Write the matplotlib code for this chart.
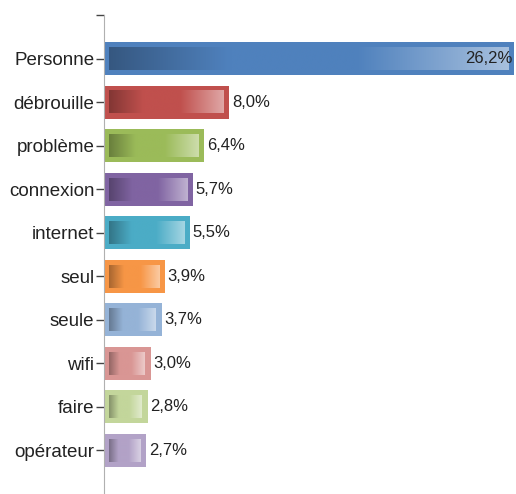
import numpy as np
import matplotlib.pyplot as plt
import matplotlib.colors as mcolors

# --- données ---
categories = ['Personne', 'débrouille', 'problème', 'connexion', 'internet',
              'seul', 'seule', 'wifi', 'faire', 'opérateur']
values = [26.2, 8.0, 6.4, 5.7, 5.5, 3.9, 3.7, 3.0, 2.8, 2.7]
colors = ['#4F81BD', '#C0504D', '#9BBB59', '#8064A2', '#4BACC6',
          '#F79646', '#95B3D7', '#D99694', '#C3D69B', '#B2A2C7']

plt.rcParams['font.family'] = ['Liberation Sans', 'DejaVu Sans']

fig = plt.figure(figsize=(5.16, 4.94), dpi=100)
ax = fig.add_axes([104 / 516, 0.0, 410 / 516, 1 - 15 / 494])

y = np.arange(len(categories))
bar_h = 0.76
ax.barh(y, values, height=bar_h, color=colors, edgecolor='none', zorder=2)

# dégradé intérieur : sombre -> couleur de base -> clair
inset_x = 5.5 / 15.65
inset_y = 0.12
t = np.linspace(0, 1, 256)
for yi, v, c in zip(y, values, colors):
    base = np.array(mcolors.to_rgb(c))
    dark = base * 0.68
    light = base + (1 - base) * 0.5
    stops = [0.0, 0.3, 0.62, 1.0]
    grad = np.stack([np.interp(t, stops, [dark[k], base[k], base[k], light[k]]) for k in range(3)], axis=1)
    ax.imshow(grad[None, :, :],
              extent=[inset_x, v - inset_x, yi + bar_h / 2 - inset_y, yi - bar_h / 2 + inset_y],
              aspect='auto', interpolation='bicubic', zorder=3)

# étiquettes de valeurs
for yi, v in zip(y, values):
    txt = f'{v:.1f}%'.replace('.', ',')
    if v == max(values):
        ax.text(v - 0.12, yi, txt, ha='right', va='center', fontsize=12, color='#222222', zorder=4)
    else:
        ax.text(v + 0.17, yi, txt, ha='left', va='center', fontsize=12, color='#222222', zorder=4)

ax.set_xlim(0, 26.2)
ax.set_ylim(len(categories), -1)
ax.set_yticks(np.arange(-1, len(categories)))
ax.set_yticklabels([''] + categories, fontsize=13.5, color='#222222')
ax.tick_params(axis='y', length=6, width=1, color='#444444', pad=1)
ax.set_xticks([])

for side in ['top', 'right', 'bottom']:
    ax.spines[side].set_visible(False)
ax.spines['left'].set_color('#b0b0b0')
ax.spines['left'].set_zorder(5)

fig.savefig('out.png', dpi=100)
